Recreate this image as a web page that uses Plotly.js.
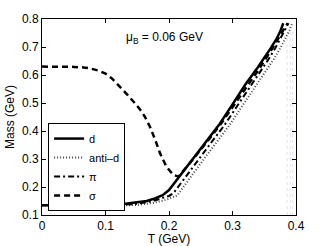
<!DOCTYPE html>
<html>
<head>
<meta charset="utf-8">
<script src="https://cdn.plot.ly/plotly-3.0.1.min.js"></script>
<style>html,body{margin:0;padding:0;background:#fff;}#plot{width:327px;height:246px;}</style>
</head>
<body>
<div id="plot"></div>
<script>
var T_d = [0, 0.05, 0.1, 0.125, 0.15, 0.165, 0.175, 0.19, 0.2, 0.22, 0.24, 0.26, 0.28, 0.30, 0.32, 0.34, 0.35, 0.36, 0.37, 0.375, 0.38];
var M_d = [0.135, 0.135, 0.136, 0.138, 0.144, 0.150, 0.157, 0.171, 0.189, 0.248, 0.307, 0.366, 0.426, 0.495, 0.565, 0.628, 0.66, 0.695, 0.732, 0.755, 0.785];

var T_ad = [0, 0.05, 0.1, 0.125, 0.15, 0.175, 0.19, 0.2, 0.213, 0.235, 0.255, 0.275, 0.295, 0.315, 0.335, 0.355, 0.365, 0.375, 0.385, 0.39, 0.394];
var M_ad = [0.133, 0.133, 0.133, 0.134, 0.136, 0.143, 0.151, 0.158, 0.17, 0.24, 0.3, 0.36, 0.42, 0.488, 0.556, 0.622, 0.657, 0.695, 0.735, 0.76, 0.785];

var T_pi = [0, 0.05, 0.1, 0.125, 0.15, 0.175, 0.19, 0.2, 0.207, 0.227, 0.247, 0.267, 0.287, 0.307, 0.327, 0.347, 0.357, 0.367, 0.377, 0.382, 0.388];
var M_pi = [0.135, 0.135, 0.135, 0.136, 0.14, 0.15, 0.161, 0.168, 0.178, 0.24, 0.3, 0.36, 0.42, 0.488, 0.556, 0.622, 0.657, 0.695, 0.735, 0.758, 0.785];

var T_s = [0, 0.03, 0.05, 0.065, 0.075, 0.09, 0.1, 0.11, 0.123, 0.135, 0.146, 0.155, 0.162, 0.17, 0.178, 0.186, 0.196, 0.207, 0.215, 0.222, 0.24, 0.26, 0.28, 0.30, 0.32, 0.34, 0.36, 0.37, 0.38, 0.387];
var M_s = [0.63, 0.63, 0.629, 0.627, 0.624, 0.615, 0.605, 0.588, 0.558, 0.528, 0.50, 0.475, 0.451, 0.415, 0.37, 0.32, 0.272, 0.243, 0.237, 0.255, 0.305, 0.362, 0.42, 0.485, 0.55, 0.615, 0.685, 0.725, 0.76, 0.785];

var T_faint = [0.386, 0.386, null, 0.391, 0.391, null, 0.395, 0.395];
var M_faint = [0.1, 0.76, null, 0.1, 0.76, null, 0.1, 0.76];

var labels = ['d', 'anti\u2013d', '\u03c0', '\u03c3'];
var annText = '\u03bc<sub>B</sub> = 0.06 GeV';
var xTicks = [0, 0.1, 0.2, 0.3, 0.4];
var xTickText = ['0', '0.1', '0.2', '0.3', '0.4'];
var yTicks = [0.1, 0.2, 0.3, 0.4, 0.5, 0.6, 0.7, 0.8];
var yTickText = ['0.1', '0.2', '0.3', '0.4', '0.5', '0.6', '0.7', '0.8'];

var traces = [
  {x: T_faint, y: M_faint, mode: 'lines', showlegend: false, hoverinfo: 'skip',
   line: {color: '#e4dff0', width: 1, dash: 'dot'}},
  {x: T_d, y: M_d, mode: 'lines', name: labels[0], line: {color: '#000', width: 2.5}},
  {x: T_ad, y: M_ad, mode: 'lines', name: labels[1], line: {color: '#444', width: 2, dash: '1px,2px'}},
  {x: T_pi, y: M_pi, mode: 'lines', name: labels[2], line: {color: '#000', width: 2, dash: '6px,3px,2px,3px'}},
  {x: T_s, y: M_s, mode: 'lines', name: labels[3], line: {color: '#000', width: 2.5, dash: '6px,4px'}}
];

var axisCommon = {
  showline: true, linecolor: '#000', linewidth: 1, mirror: 'ticks',
  ticks: 'inside', ticklen: 4, tickcolor: '#000', tickwidth: 1,
  showgrid: false, zeroline: false,
  tickfont: {family: 'Liberation Sans, Arial, sans-serif', size: 12, color: '#000'}
};

var layout = {
  width: 327, height: 246,
  margin: {l: 42, r: 31, t: 19, b: 31},
  paper_bgcolor: '#fff', plot_bgcolor: '#fff',
  font: {family: 'Liberation Sans, Arial, sans-serif', size: 12, color: '#000'},
  xaxis: Object.assign({}, axisCommon, {
    range: [0, 0.4], tickvals: xTicks, ticktext: xTickText,
    title: {text: 'T (GeV)', font: {size: 12}, standoff: 0}
  }),
  yaxis: Object.assign({}, axisCommon, {
    range: [0.1, 0.8], tickvals: yTicks, ticktext: yTickText,
    title: {text: 'Mass (GeV)', font: {size: 12}, standoff: 4}
  }),
  showlegend: true,
  legend: {
    x: 0.024, y: 0.469, xanchor: 'left', yanchor: 'top',
    bgcolor: '#fff', bordercolor: '#000', borderwidth: 1,
    font: {size: 11}, tracegroupgap: 0, itemwidth: 30
  },
  annotations: [{
    xref: 'paper', yref: 'paper', x: 0.484, y: 0.903, xanchor: 'center', yanchor: 'middle',
    text: annText, showarrow: false, font: {size: 12}
  }]
};

Plotly.newPlot('plot', traces, layout, {displayModeBar: false, staticPlot: true});
</script>
</body>
</html>
